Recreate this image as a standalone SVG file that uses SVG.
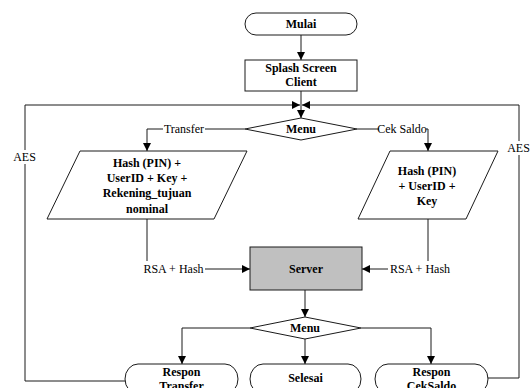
<svg xmlns="http://www.w3.org/2000/svg" width="531" height="388" viewBox="0 0 531 388" font-family="'Liberation Serif', 'Times New Roman', 'DejaVu Serif', serif">
<style>
.s{fill:#fff;stroke:#1a1a1a;stroke-width:1}
.g{fill:#c0c0c0;stroke:#1a1a1a;stroke-width:1}
text{font-family:'Liberation Serif','Times New Roman','DejaVu Serif',serif;font-size:12px;text-anchor:middle;fill:#000}
.b{font-weight:bold}
.c{fill:none;stroke:#1a1a1a;stroke-width:1}
.bg{fill:#fff}
</style>
<defs>
<marker id="ah" markerUnits="userSpaceOnUse" viewBox="0 0 8 8" refX="8" refY="4" markerWidth="8" markerHeight="8" orient="auto">
<path d="M0,0 L8,4 L0,8 z" fill="#000"/>
</marker>
</defs>
<rect width="531" height="388" fill="#fff"/>
<g id="connectors">
<path class="c" d="M301,35 V60" marker-end="url(#ah)"/>
<path class="c" d="M301,91 V118" marker-end="url(#ah)"/>
<path class="c" d="M126,381 H25 V105 H300" marker-end="url(#ah)"/>
<path class="c" d="M487,378 H519 V105 H302" marker-end="url(#ah)"/>
<path class="c" d="M245,129 H147 V151" marker-end="url(#ah)"/>
<path class="c" d="M357,129 H428 V151" marker-end="url(#ah)"/>
<path class="c" d="M147,219 V269 H250" marker-end="url(#ah)"/>
<path class="c" d="M428,219 V269 H362" marker-end="url(#ah)"/>
<path class="c" d="M305,290 V317" marker-end="url(#ah)"/>
<path class="c" d="M250,328 H182 V364" marker-end="url(#ah)"/>
<path class="c" d="M305,339 V364" marker-end="url(#ah)"/>
<path class="c" d="M361,328 H431 V364" marker-end="url(#ah)"/>
<rect class="bg" x="163" y="122" width="42" height="14"/>
<text x="184" y="133">Transfer</text>
<rect class="bg" x="379" y="122" width="47" height="14"/>
<text x="402" y="133">Cek Saldo</text>
<rect class="bg" x="142" y="261" width="63" height="15"/>
<text x="173.5" y="273">RSA + Hash</text>
<rect class="bg" x="388" y="261" width="64" height="15"/>
<text x="420" y="273">RSA + Hash</text>
<rect class="bg" x="12" y="150" width="25" height="14"/>
<text x="24.5" y="161">AES</text>
<rect class="bg" x="506" y="141" width="25" height="14"/>
<text x="518.5" y="152">AES</text>
</g>
<g id="mulai">
<rect class="s" x="245" y="13" width="112" height="22" rx="11" ry="11"/>
<text class="b" x="301" y="28">Mulai</text>
</g>
<g id="splash">
<rect class="s" x="245" y="60" width="112" height="31"/>
<text class="b" x="301" y="72">Splash Screen</text>
<text class="b" x="301" y="86">Client</text>
</g>
<g id="menu1">
<polygon class="s" points="301,118 357,129 301,140 245,129"/>
<text class="b" x="301" y="133">Menu</text>
</g>
<g id="input-transfer">
<polygon class="s" points="80,151 247,151 214,219 47,219"/>
<text class="b" x="147" y="167">Hash (PIN) +</text>
<text class="b" x="147" y="182">UserID + Key +</text>
<text class="b" x="147" y="197">Rekening_tujuan</text>
<text class="b" x="147" y="213">nominal</text>
</g>
<g id="input-ceksaldo">
<polygon class="s" points="390,151 498,151 466,219 358,219"/>
<text class="b" x="427" y="175">Hash (PIN)</text>
<text class="b" x="427" y="190">+ UserID +</text>
<text class="b" x="427" y="205">Key</text>
</g>
<g id="server">
<rect class="g" x="250" y="247" width="112" height="43"/>
<text class="b" x="306" y="273">Server</text>
</g>
<g id="menu2">
<polygon class="s" points="305,317 361,328 305,339 250,328"/>
<text class="b" x="305" y="332">Menu</text>
</g>
<g id="respon-transfer">
<rect class="s" x="125" y="364" width="113" height="30" rx="13" ry="15"/>
<text class="b" x="181.5" y="376">Respon</text>
<text class="b" x="181.5" y="390">Transfer</text>
</g>
<g id="selesai">
<rect class="s" x="250" y="364" width="111" height="30" rx="13" ry="15"/>
<text class="b" x="305.5" y="382">Selesai</text>
</g>
<g id="respon-ceksaldo">
<rect class="s" x="375" y="364" width="113" height="30" rx="13" ry="15"/>
<text class="b" x="431.5" y="376">Respon</text>
<text class="b" x="431.5" y="390">CekSaldo</text>
</g>
</svg>
